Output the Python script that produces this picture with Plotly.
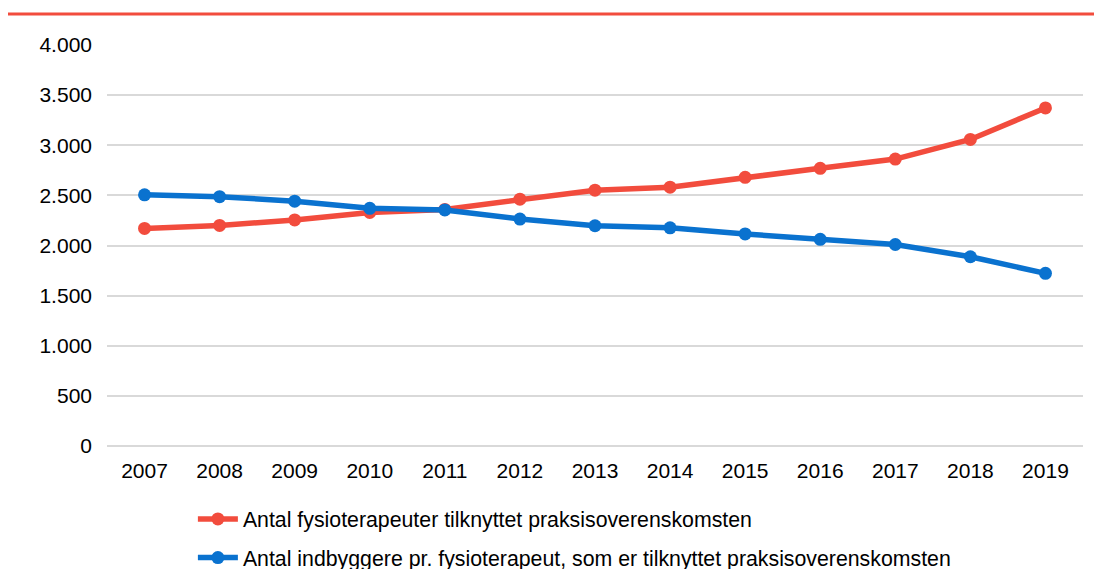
import plotly.graph_objects as go

years = ["2007", "2008", "2009", "2010", "2011", "2012", "2013", "2014", "2015", "2016", "2017", "2018", "2019"]
fysioterapeuter = [2170, 2200, 2255, 2330, 2360, 2462, 2552, 2582, 2680, 2770, 2862, 3058, 3372]
indbyggere = [2505, 2487, 2442, 2371, 2355, 2264, 2197, 2176, 2115, 2062, 2010, 1888, 1722]
y_ticks = [0, 500, 1000, 1500, 2000, 2500, 3000, 3500, 4000]
y_tick_labels = ["0", "500", "1.000", "1.500", "2.000", "2.500", "3.000", "3.500", "4.000"]

RED = "#F24C3D"
BLUE = "#0A72CF"
FONT = "Liberation Sans, Arial, sans-serif"

fig = go.Figure()
fig.add_trace(go.Scatter(
    x=years, y=fysioterapeuter, mode="lines+markers",
    name="Antal fysioterapeuter tilknyttet praksisoverenskomsten",
    line=dict(color=RED, width=5.5), marker=dict(color=RED, size=13),
    legendgroup="a",
))
fig.add_trace(go.Scatter(
    x=years, y=indbyggere, mode="lines+markers",
    name="Antal indbyggere pr. fysioterapeut, som er tilknyttet praksisoverenskomsten",
    line=dict(color=BLUE, width=5.5), marker=dict(color=BLUE, size=13),
    legendgroup="b",
))

fig.add_shape(type="line", xref="paper", yref="paper",
              x0=-0.1045, x1=1.02, y0=1.077, y1=1.077,
              line=dict(color=RED, width=3))

# the page has an 8px body margin, so the figure is sized to fit inside it
fig.update_layout(
    width=1094, height=561,
    margin=dict(l=99, r=19, t=37, b=123, autoexpand=False),
    paper_bgcolor="white", plot_bgcolor="white",
    font=dict(family=FONT, size=21, color="#000000"),
    showlegend=True,
    legend=dict(orientation="v", x=0.088, xanchor="left", y=-0.131, yanchor="top",
                font=dict(family=FONT, size=21.3), tracegroupgap=8,
                itemwidth=40, bgcolor="rgba(0,0,0,0)"),
    xaxis=dict(type="category", range=[-0.5, len(years) - 0.5],
               showgrid=False, showline=False, zeroline=False,
               ticks="", tickfont=dict(size=21), ticklabelstandoff=10),
    yaxis=dict(range=[0, 4000], tickvals=y_ticks, ticktext=y_tick_labels,
               showgrid=True, gridcolor="#D9D9D9", gridwidth=1.5,
               zeroline=True, zerolinecolor="#D9D9D9", zerolinewidth=1.5,
               showline=False, ticks="", tickfont=dict(size=21), ticklabelstandoff=14),
)

fig.write_html("out.html")
